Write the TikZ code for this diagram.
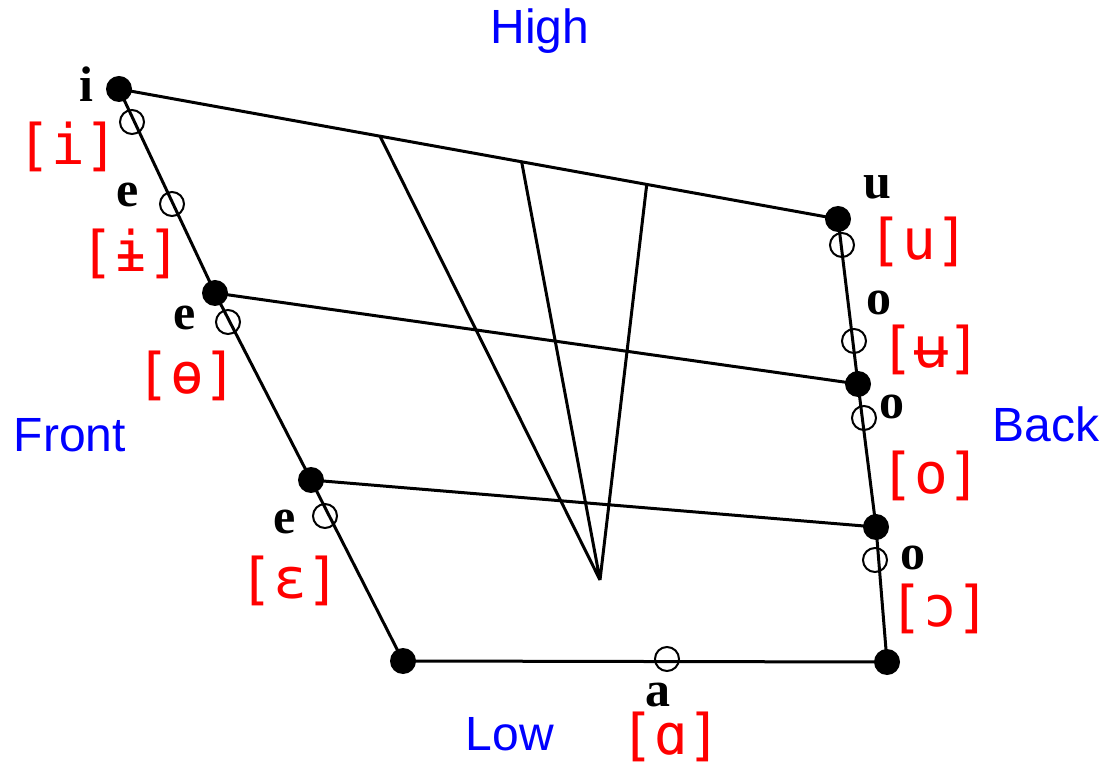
\documentclass[tikz,border=0pt]{standalone}
\usepackage{fontspec}
\setmainfont{Liberation Serif}
\setsansfont{Liberation Sans}
\newfontfamily\ipafont{DejaVu Sans Mono}
\usetikzlibrary{calc}
\definecolor{myblue}{RGB}{0,0,255}
\definecolor{myred}{RGB}{255,0,0}

\begin{document}
\begin{tikzpicture}[x=0.5pt,y=-0.5pt,
		dot/.style={circle,fill=black,inner sep=0pt,minimum size=13pt},
		ring/.style={circle,draw=black,line width=1pt,inner sep=0pt,minimum size=12pt},
		letter/.style={inner sep=0pt,font=\fontsize{25}{25}\selectfont\bfseries},
		ipa/.style={inner sep=0pt,text=myred,font=\fontsize{28}{28}\ipafont},
		side/.style={inner sep=0pt,text=myblue,font=\fontsize{24}{24}\sffamily}]
		\useasboundingbox (0,0) rectangle (1107,769);
		
		%Corners
		\node[dot] (front1) at (119,89) {};
		\node[dot] (front2) at (215,293) {};
		\node[dot] (front3) at (311,480) {};
		\node[dot] (front4) at (403,661) {};
		\node[dot] (back1) at (838,219) {};
		\node[dot] (back2) at (858,384) {};
		\node[dot] (back3) at (876,527) {};
		\node[dot] (back4) at (887,662) {};
		
		\draw[black,line width=1.5pt]
		(front1.center) -- (front2.center) -- (front3.center) -- (front4.center)
		-- (back4.center) -- (back3.center) -- (back2.center) -- (back1.center) -- cycle;
		\draw[black,line width=1.5pt]
		(front2.center) -- (back2.center)
		(front3.center) -- (back3.center);
		
		%Wedge
		\coordinate (top1) at ($(front1)!0.363!(back1)$);
		\coordinate (top2) at ($(front1)!0.560!(back1)$);
		\coordinate (top3) at ($(front1)!0.734!(back1)$);
		\coordinate (apex) at (600,580);
		\draw[black,line width=1.5pt]
		(top1) -- (apex)
		(top2) -- (apex)
		(top3) -- (apex);
		
		%Open points
		\node[ring] (ri) at (132,122) {};
		\node[ring] (rbari) at (172,204) {};
		\node[ring] (rbaro) at (228,322) {};
		\node[ring] (reps) at (325,516) {};
		\node[ring] (ralpha) at (667,659) {};
		\node[ring] (ru) at (842,245) {};
		\node[ring] (rbaru) at (854,341) {};
		\node[ring] (ro) at (864,418) {};
		\node[ring] (ropen) at (875,560) {};
		
		%Letters
		\node[letter] (li) at (86,84) {i};
		\node[letter] (le1) at (128,195) {e};
		\node[letter] (le2) at (185,318) {e};
		\node[letter] (le3) at (285,522) {e};
		\node[letter] (lu) at (877,187) {u};
		\node[letter] (lo1) at (879,303) {o};
		\node[letter] (lo2) at (892,407) {o};
		\node[letter] (lo3) at (913,558) {o};
		\node[letter] (la) at (658,695) {a};
		
		%Sounds
		\node[ipa] (si) at (68,147) {[i]};
		\node[ipa] (sbari) at (131,254) {[ɨ]};
		\node[ipa] (sbaro) at (187,376) {[ɵ]};
		\node[ipa] (seps) at (290,581) {[ɛ]};
		\node[ipa] (su) at (919,242) {[u]};
		\node[ipa] (sbaru) at (931,350) {[ʉ]};
		\node[ipa] (so) at (931,476) {[o]};
		\node[ipa] (sopen) at (940,609) {[ɔ]};
		\node[ipa] (salpha) at (671,737) {[ɑ]};
		
		%Annotations
		\node[side] (high) at (540,31) {High};
		\node[side] (front) at (70,435) {Front};
		\node[side] (back) at (1046,424) {Back};
		\node[side] (low) at (510,734) {Low};
		
	\end{tikzpicture}
\end{document}
